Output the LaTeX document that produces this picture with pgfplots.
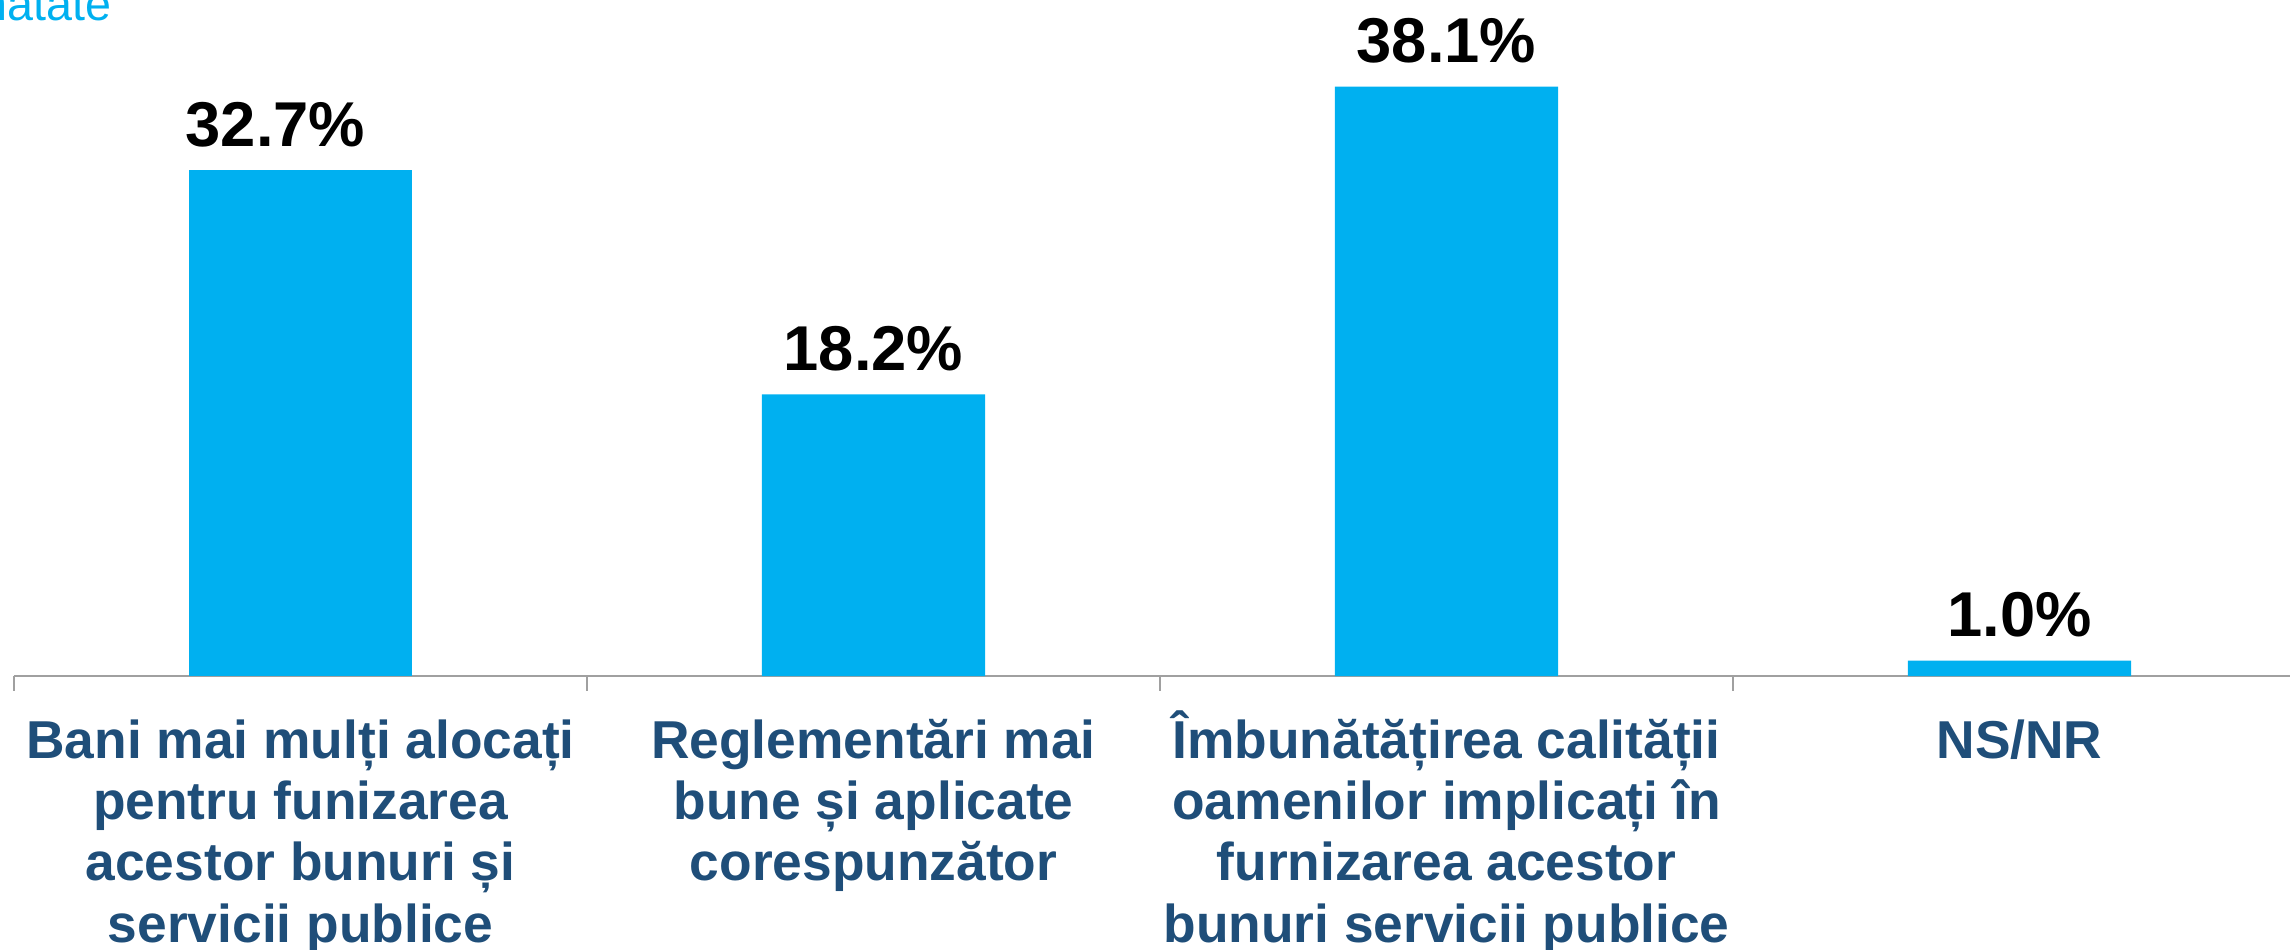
\documentclass[border=0pt]{standalone}
\usepackage{fontspec}
\setmainfont{Liberation Sans}
\usepackage{pgfplots}
\pgfplotsset{compat=1.18}
\definecolor{barcyan}{HTML}{00B0F0}
\definecolor{catblue}{HTML}{1F4E79}
\definecolor{axgray}{HTML}{A0A0A0}
\newcommand{\cat}[1]{\parbox[t]{170pt}{\centering\bfseries\fontsize{16}{18.4}\selectfont #1}}
\begin{document}
\begin{tikzpicture}
\useasboundingbox (-4.2pt,-81.9pt) rectangle (682.8pt,202.8pt);
\clip (-4.2pt,-81.9pt) rectangle (682.8pt,202.8pt);
\node[anchor=base east, inner sep=0, text=barcyan, font=\fontsize{14}{16}\selectfont] at (29.5pt,196.8pt) {sănătate};
\begin{axis}[
  scale only axis,
  width=687.6pt, height=202.8pt,
  xmin=-0.5, xmax=3.5,
  ymin=0, ymax=43.7,
  axis x line*=bottom,
  axis y line=none,
  x axis line style={draw=axgray, line width=0.5pt, -},
  xtick={0,1,2,3},
  major tick length=0pt,
  xticklabels={
    {\cat{Bani mai mulți alocați\\pentru funizarea\\acestor bunuri și\\servicii publice}},
    {\cat{Reglementări mai\\bune și aplicate\\corespunzător}},
    {\cat{Îmbunătățirea calității\\oamenilor implicați în\\furnizarea acestor\\bunuri servicii publice}},
    {\cat{NS/NR}}},
  xticklabel style={anchor=base, inner sep=0pt, yshift=-24.6pt, text=catblue},
  extra x ticks={-0.5,0.5,1.5,2.5,3.5},
  extra x tick labels={},
  extra x tick style={major tick length=4.4pt, tick align=outside, tick style={draw=axgray, line width=0.5pt}},
  ybar, bar width=67pt, bar shift=0pt,
  point meta=explicit symbolic,
  nodes near coords,
  every node near coord/.append style={font=\bfseries\fontsize{19}{22}\selectfont, text=black, anchor=base, yshift=7.2pt, inner sep=0pt},
]
\addplot[draw=none, fill=barcyan, every node near coord/.append style={xshift=-7.5pt}] coordinates {
  (0,32.7) [32.7\%]
};
\addplot[draw=none, fill=barcyan] coordinates {
  (1,18.2) [18.2\%]
  (2,38.1) [38.1\%]
  (3,1.0) [1.0\%]
};
\end{axis}
\end{tikzpicture}
\end{document}
